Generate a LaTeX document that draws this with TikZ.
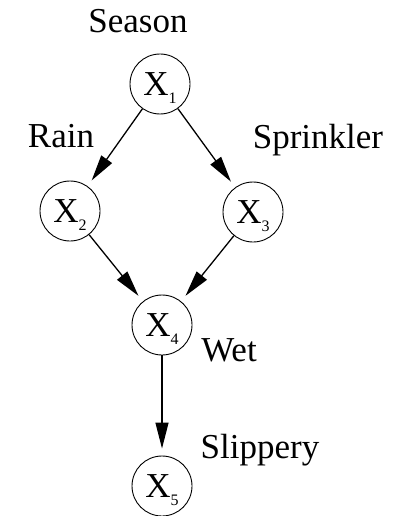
\documentclass[tikz,border=0pt]{standalone}
\usepackage{fontspec}
\setmainfont{Liberation Serif}
\usetikzlibrary{arrows.meta}

\newcommand{\xsub}[1]{X\raisebox{-8pt}{\fontsize{16}{16}\selectfont #1}}

\begin{document}
\begin{tikzpicture}[x=1pt, y=-1pt, >={Triangle[length=26pt, width=13pt]},
  font=\fontsize{35}{42}\selectfont,
  var/.style={draw, circle, line width=0.9pt, minimum size=60pt, inner sep=0pt, text depth=0pt},
  lbl/.style={anchor=base, inner sep=0pt},
  edge/.style={->, line width=1.3pt, shorten >=7pt}]

\useasboundingbox (0,0) rectangle (405,516);

%% ===================== variables =====================
\node[var] (x1) at (160,84)  {\xsub{1}};
\node[var] (x2) at (70,211)  {\xsub{2}};
\node[var] (x3) at (253,212) {\xsub{3}};
\node[var] (x4) at (162,325) {\xsub{4}};
\node[var] (x5) at (162,486) {\xsub{5}};

%% ===================== names =====================
\node[lbl] (season)    at (138,33)  {Season};
\node[lbl] (rain)      at (61,147)  {Rain};
\node[lbl] (sprinkler) at (318,148) {Sprinkler};
\node[lbl] (wet)       at (229,361) {Wet};
\node[lbl] (slippery)  at (260,458) {Slippery};

%% ===================== dependencies =====================
\draw[edge] (x1) -- (x2);
\draw[edge] (x1) -- (x3);
\draw[edge] (x2) -- (x4);
\draw[edge] (x3) -- (x4);
\draw[edge] (x4) -- (x5);

\end{tikzpicture}
\end{document}
